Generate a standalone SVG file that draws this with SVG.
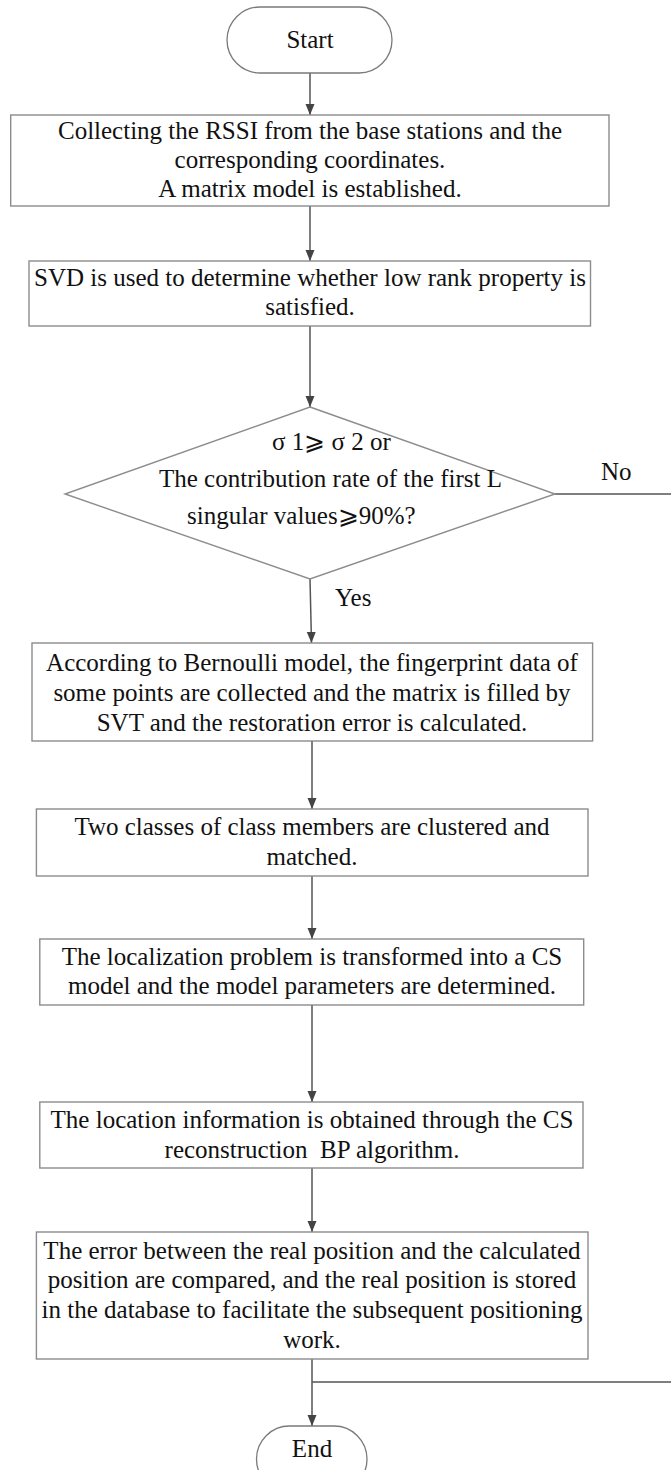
<svg xmlns="http://www.w3.org/2000/svg" width="671" height="1470" viewBox="0 0 671 1470">
<style>
.box{fill:#fff;stroke:#8c8c8c;stroke-width:1.4}
.term{fill:#fff;stroke:#7a7a7a;stroke-width:1.3}
.t{font-family:"Liberation Serif","Times New Roman",serif;font-size:25px;fill:#111;text-anchor:middle}
.ts{font-family:"Liberation Serif","DejaVu Serif",serif;font-size:25px;fill:#111}
.c{fill:none;stroke:#555;stroke-width:1.5}
</style>
<defs>
<marker id="ah" markerUnits="userSpaceOnUse" markerWidth="12" markerHeight="12" viewBox="0 0 12 12" refX="11" refY="6" orient="auto">
<path d="M0,1.5 L11,6 L0,10.5 Z" fill="#444"/>
</marker>
</defs>
<rect width="671" height="1470" fill="#fff"/>
<g id="connectors">
<line class="c" x1="310" y1="73" x2="310" y2="115" marker-end="url(#ah)"/>
<line class="c" x1="310" y1="206" x2="310" y2="261" marker-end="url(#ah)"/>
<line class="c" x1="310" y1="326" x2="310" y2="407" marker-end="url(#ah)"/>
<line class="c" x1="310" y1="579" x2="311.5" y2="643" marker-end="url(#ah)"/>
<line class="c" x1="555" y1="494" x2="671" y2="494"/>
<line class="c" x1="312" y1="741" x2="312" y2="809" marker-end="url(#ah)"/>
<line class="c" x1="312" y1="876" x2="312" y2="939" marker-end="url(#ah)"/>
<line class="c" x1="312" y1="1005" x2="312" y2="1102" marker-end="url(#ah)"/>
<line class="c" x1="312" y1="1168" x2="312" y2="1232" marker-end="url(#ah)"/>
<line class="c" x1="312" y1="1359" x2="312" y2="1426" marker-end="url(#ah)"/>
<line class="c" x1="312" y1="1382" x2="671" y2="1382"/>
<text class="ts" x="601" y="480">No</text>
<text class="ts" x="335" y="606">Yes</text>
</g>
<g id="start">
<rect class="term" x="227" y="7" width="165" height="66" rx="33" ry="33"/>
<text class="t" x="310" y="48">Start</text>
</g>
<g id="box1">
<rect class="box" x="10.7" y="115" width="598.3" height="91"/>
<text class="t" x="310" y="139">Collecting the RSSI from the base stations and the</text>
<text class="t" x="310" y="168">corresponding coordinates.</text>
<text class="t" x="310" y="197">A matrix model is established.</text>
</g>
<g id="box2">
<rect class="box" x="29" y="261" width="561.5" height="65"/>
<text class="t" x="310" y="286">SVD is used to determine whether low rank property is</text>
<text class="t" x="310" y="315">satisfied.</text>
</g>
<g id="decision">
<polygon class="box" points="310,407 555,494 310,579 65,494"/>
<text class="ts" x="272" y="450">σ 1⩾ σ 2 or</text>
<text class="ts" x="159" y="487">The contribution rate of the first L</text>
<text class="ts" x="187" y="524">singular values⩾90%?</text>
</g>
<g id="box3">
<rect class="box" x="32" y="643" width="560.6" height="98"/>
<text class="t" x="312" y="671">According to Bernoulli model, the fingerprint data of</text>
<text class="t" x="312" y="701">some points are collected and the matrix is filled by</text>
<text class="t" x="312" y="731">SVT and the restoration error is calculated.</text>
</g>
<g id="box4">
<rect class="box" x="36.4" y="809" width="551.6" height="67"/>
<text class="t" x="312" y="835">Two classes of class members are clustered and</text>
<text class="t" x="312" y="865">matched.</text>
</g>
<g id="box5">
<rect class="box" x="39.8" y="939" width="543.9" height="66"/>
<text class="t" x="312" y="965">The localization problem is transformed into a CS</text>
<text class="t" x="312" y="994">model and the model parameters are determined.</text>
</g>
<g id="box6">
<rect class="box" x="39.8" y="1102" width="543.2" height="66"/>
<text class="t" x="312" y="1128">The location information is obtained through the CS</text>
<text class="t" x="312" y="1158" xml:space="preserve">reconstruction  BP algorithm.</text>
</g>
<g id="box7">
<rect class="box" x="36.4" y="1232" width="551.6" height="127"/>
<text class="t" x="312" y="1259">The error between the real position and the calculated</text>
<text class="t" x="312" y="1288">position are compared, and the real position is stored</text>
<text class="t" x="312" y="1318">in the database to facilitate the subsequent positioning</text>
<text class="t" x="312" y="1348">work.</text>
</g>
<g id="end">
<rect class="term" x="256.5" y="1426" width="110.5" height="66" rx="33" ry="33"/>
<text class="t" x="312" y="1457">End</text>
</g>
</svg>
